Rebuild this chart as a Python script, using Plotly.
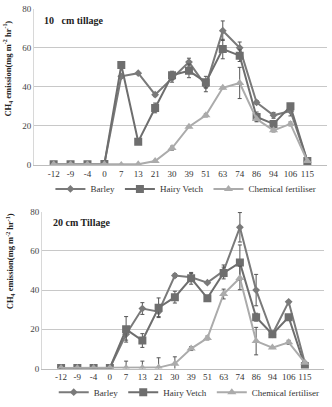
import plotly.graph_objects as go

days = ["-12", "-9", "-4", "0", "7", "13", "21", "30", "39", "51", "63", "74", "86", "94", "106", "115"]

# 10 cm tillage
barley_10 = [0.3, 0.3, 0.3, 0.6, 45.4, 47.0, 36.0, 44.4, 52.7, 40.5, 68.8, 60.0, 32.0, 25.4, 27.6, 2.0]
barley_10_err = [0, 0, 0, 0, 1.0, 0, 1.0, 2.0, 2.0, 3.0, 5.0, 3.0, 1.0, 1.5, 2.5, 0.5]
vetch_10 = [0.3, 0.3, 0.3, 0.4, 51.2, 11.9, 29.2, 46.0, 48.2, 42.4, 59.4, 56.0, 24.6, 21.0, 30.0, 2.0]
vetch_10_err = [0, 0, 0, 0, 0.5, 0.5, 2.5, 2.0, 3.5, 3.0, 5.0, 3.0, 2.5, 0.5, 1.5, 0.5]
chem_10 = [0.3, 0.3, 0.3, 0.3, 0.0, 0.3, 2.0, 8.6, 19.6, 25.4, 39.5, 42.0, 23.5, 17.7, 21.0, 2.0]
chem_10_err = [0, 0, 0, 0, 0, 0, 0.3, 1.0, 0.5, 0.8, 0.5, 8.0, 1.0, 0.8, 1.0, 0.5]

# 20 cm tillage
barley_20 = [0.3, 0.3, 0.3, 0.3, 17.5, 30.6, 29.0, 47.4, 46.5, 43.8, 49.8, 72.0, 40.0, 17.5, 34.0, 2.8]
barley_20_err = [0, 0, 0, 0, 3.0, 3.0, 2.5, 1.0, 2.0, 0.5, 3.0, 7.5, 8.0, 0.5, 0.5, 0.5]
vetch_20 = [0.3, 0.3, 0.3, 0.3, 20.0, 14.3, 31.0, 36.4, 46.0, 35.9, 48.7, 54.0, 26.2, 17.5, 26.2, 1.2]
vetch_20_err = [0, 0, 0, 0, 6.5, 3.5, 5.0, 3.0, 3.0, 0.5, 3.0, 9.0, 2.0, 0.5, 0.5, 0.3]
chem_20 = [0.3, 0.3, 0.3, 0.3, 0.3, 0.3, 0.5, 2.5, 10.2, 15.6, 38.0, 46.2, 14.0, 10.7, 13.4, 3.0]
chem_20_err = [0, 0, 0, 0, 3.5, 3.5, 5.0, 3.5, 1.0, 1.0, 2.5, 6.0, 7.0, 0.5, 1.0, 0.5]

series_names = ["Barley", "Hairy Vetch", "Chemical fertiliser"]
colors = ["#7a7a7a", "#6e6e6e", "#ababab"]
symbols = ["diamond", "square", "triangle-up"]
sizes = [6, 8, 8]

W, H = 332, 407
FONT = "Liberation Serif"

fig = go.Figure()

panels = [
    ("x", "y", "legend", [barley_10, vetch_10, chem_10], [barley_10_err, vetch_10_err, chem_10_err]),
    ("x2", "y2", "legend2", [barley_20, vetch_20, chem_20], [barley_20_err, vetch_20_err, chem_20_err]),
]

for xa, ya, leg, vals, errs in panels:
    for i in range(3):
        fig.add_trace(go.Scatter(
            x=days, y=vals[i], name=series_names[i], mode="lines+markers",
            xaxis=xa, yaxis=ya, legend=leg,
            line=dict(color=colors[i], width=2),
            marker=dict(symbol=symbols[i], size=sizes[i], color=colors[i]),
            error_y=dict(type="data", array=errs[i], visible=True,
                         color="#555555", thickness=1, width=2),
        ))

def py(px):
    return 1 - px / H

def pxx(px):
    return px / W

axis_common = dict(
    type="category", showgrid=False, showline=True, linecolor="#bdbdbd",
    ticks="", tickfont=dict(family=FONT, size=9, color="#333333"),
    categoryorder="array", categoryarray=days,
)
yaxis_common = dict(
    range=[0, 80], tickvals=[0, 20, 40, 60, 80], showgrid=True, gridcolor="#c8c8c8",
    gridwidth=1, showline=True, linecolor="#d8d8d8", zeroline=False, ticks="",
    tickfont=dict(family=FONT, size=9, color="#444444"),
)

fig.update_layout(
    width=W, height=H,
    margin=dict(l=0, r=0, t=0, b=0),
    paper_bgcolor="white", plot_bgcolor="white",
    font=dict(family=FONT, size=9, color="#333333"),
    xaxis=dict(domain=[pxx(34), pxx(327)], anchor="y", **axis_common),
    yaxis=dict(domain=[py(166), py(4)], anchor="x", **yaxis_common),
    xaxis2=dict(domain=[pxx(42), pxx(324)], anchor="y2", **axis_common),
    yaxis2=dict(domain=[py(377.5), py(214.5)], anchor="x2", **yaxis_common),
    legend=dict(orientation="h", x=0.56, xanchor="center", y=py(191), yanchor="middle",
                font=dict(family=FONT, size=9, color="#333333"),
                bgcolor="rgba(0,0,0,0)", tracegroupgap=0),
    legend2=dict(orientation="h", x=0.57, xanchor="center", y=py(402), yanchor="middle",
                 font=dict(family=FONT, size=9, color="#333333"),
                 bgcolor="rgba(0,0,0,0)", tracegroupgap=0),
    showlegend=True,
)

fig.add_annotation(text="<b>10   cm tillage</b>", xref="paper", yref="paper",
                   x=pxx(42), y=py(16), xanchor="left", yanchor="middle", showarrow=False,
                   font=dict(family=FONT, size=10, color="#222222"))
fig.add_annotation(text="<b>20 cm Tillage</b>", xref="paper", yref="paper",
                   x=pxx(51), y=py(226), xanchor="left", yanchor="middle", showarrow=False,
                   font=dict(family=FONT, size=10, color="#222222"))

ytitle = "<b>CH<sub>4</sub> emission(mg m<sup>-2</sup> hr<sup>-1</sup>)</b>"
fig.add_annotation(text=ytitle, xref="paper", yref="paper", x=pxx(8), y=py(66),
                   textangle=-90, showarrow=False, xanchor="center", yanchor="middle",
                   font=dict(family=FONT, size=8.5, color="#222222"))
fig.add_annotation(text=ytitle, xref="paper", yref="paper", x=pxx(10), y=py(266),
                   textangle=-90, showarrow=False, xanchor="center", yanchor="middle",
                   font=dict(family=FONT, size=8.5, color="#222222"))

fig.write_html("out.html")
